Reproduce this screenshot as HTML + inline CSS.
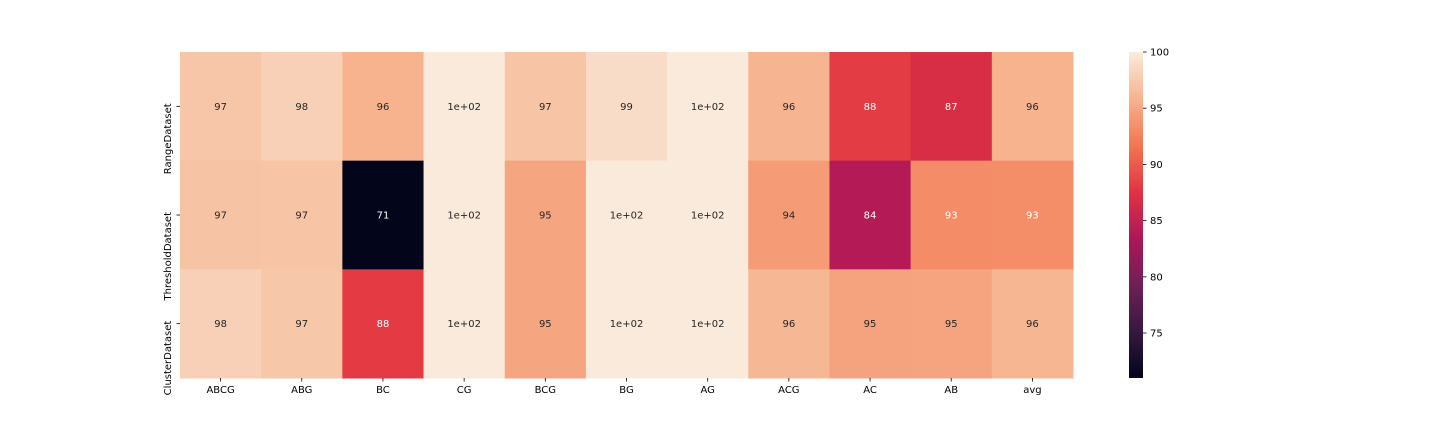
<!DOCTYPE html>
<html><head><meta charset="utf-8">
<style>
html,body{margin:0;padding:0;background:#fff;}
svg{display:block;font-family:"DejaVu Sans","Liberation Sans",sans-serif;}
</style></head>
<body>
<svg id="chart" width="1440" height="432"></svg>
<script>
const columns = ["ABCG","ABG","BC","CG","BCG","BG","AG","ACG","AC","AB","avg"];
const rows = ["RangeDataset","ThresholdDataset","ClusterDataset"];
const rangeValues = [97.2,98.0,95.8,99.9,97.1,98.9,99.9,95.9,88.1,86.8,95.8];
const thresholdValues = [97.0,97.1,71.0,99.9,94.9,99.9,99.9,94.2,84.0,93.2,93.3];
const clusterValues = [98.0,97.3,88.0,99.9,94.9,99.9,99.9,96.1,94.7,94.8,96.0];
const colorbarTicks = [75,80,85,90,95,100];
const vmin = 71.0, vmax = 100.0;

const NS="http://www.w3.org/2000/svg";
const svg=document.getElementById('chart');
const X0=180,X1=1073,Y0=52,Y1=378;
const cw=(X1-X0)/columns.length, rh=(Y1-Y0)/rows.length;
const xPos=i=>X0+i*cw, yPos=j=>Y0+j*rh;
const stops=[[0,"#03051a"],[1/7,"#35193e"],[2/7,"#701f57"],[3/7,"#ad1759"],[4/7,"#e13342"],[5/7,"#f37651"],[6/7,"#f6b48f"],[1,"#faebdd"]];
function hx(h){return [1,3,5].map(k=>parseInt(h.substr(k,2),16));}
function cmap(v){let t=(v-vmin)/(vmax-vmin);t=Math.max(0,Math.min(1,t));
 for(let k=0;k<stops.length-1;k++){const [a,ca]=stops[k],[b,cb]=stops[k+1];
  if(t<=b){const f=(t-a)/(b-a),A=hx(ca),B=hx(cb);return A.map((x,i)=>Math.round(x+(B[i]-x)*f));}}
 return hx(stops[stops.length-1][1]);}
function lum(c){const l=c.map(x=>{x/=255;return x<=0.03928?x/12.92:Math.pow((x+0.055)/1.055,2.4);});return 0.2126*l[0]+0.7152*l[1]+0.0722*l[2];}
function fmt(v){const r=Number(v.toPrecision(2));return r>=100?"1e+02":String(r);}
function el(tag,attrs,parent){const e=document.createElementNS(NS,tag);for(const k in attrs)e.setAttribute(k,attrs[k]);(parent||svg).appendChild(e);return e;}
const data=[rangeValues,thresholdValues,clusterValues];
const g=el('g',{});


data.forEach((rowVals,j)=>{rowVals.forEach((v,i)=>{
 const c=cmap(v);
 const r=el('rect',{x:xPos(i),y:yPos(j),width:cw+0.5,height:rh+0.5,fill:`rgb(${c.join(',')})`},g);
 
 
 const t=el('text',{x:xPos(i)+cw/2,y:yPos(j)+rh/2+3.5,'text-anchor':'middle','font-size':10,fill:lum(c)>0.408?'#262626':'#ffffff'},g);
 t.textContent=fmt(v);
 
 
});});
columns.forEach((c,i)=>{
 el('line',{x1:xPos(i)+cw/2,x2:xPos(i)+cw/2,y1:Y1,y2:Y1+3.5,stroke:'#000','stroke-width':0.8});
 const t=el('text',{x:xPos(i)+cw/2,y:Y1+15,'text-anchor':'middle','font-size':10,fill:'#000'});
 t.textContent=c;
 
 
});
rows.forEach((r,j)=>{
 const cy=yPos(j)+rh/2;
 el('line',{x1:X0-3.5,x2:X0,y1:cy,y2:cy,stroke:'#000','stroke-width':0.8});
 const t=el('text',{x:0,y:0,'text-anchor':'end','font-size':10,fill:'#000',transform:`translate(${X0-9},${cy-3}) rotate(-90)`});
 t.textContent=r;
 
 
});
// colorbar
const CB0=1129,CBW=14;
const cbY=v=>Y1-(v-vmin)/(vmax-vmin)*(Y1-Y0);
const defs=el('defs',{});
const lg=el('linearGradient',{id:'cbg',x1:0,y1:1,x2:0,y2:0},defs);
stops.forEach(([o,c])=>el('stop',{offset:o,'stop-color':c},lg));
const cb=el('rect',{x:CB0,y:Y0,width:CBW,height:Y1-Y0,fill:'url(#cbg)'});


colorbarTicks.forEach(v=>{
 const y=cbY(v);
 el('line',{x1:CB0+CBW,x2:CB0+CBW+3.5,y1:y,y2:y,stroke:'#000','stroke-width':0.8});
 const t=el('text',{x:CB0+CBW+7,y:y+3.5,'font-size':10,fill:'#000'});
 t.textContent=v;
 
 
});
</script>
</body></html>
